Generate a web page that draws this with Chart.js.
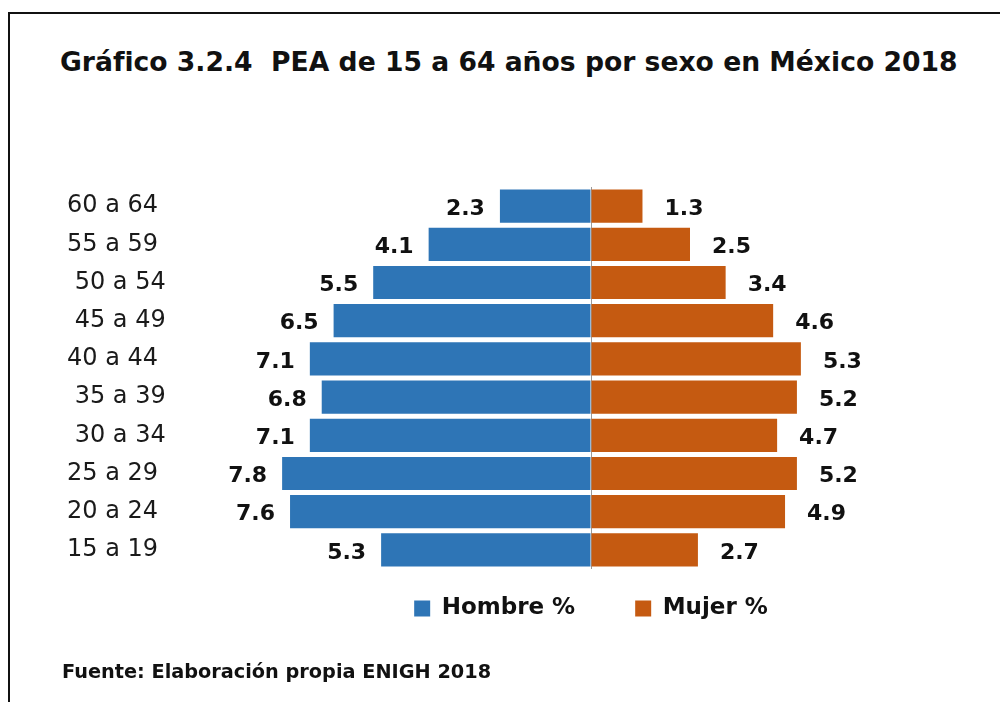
<!DOCTYPE html>
<html lang="es">
<head>
<meta charset="utf-8">
<title>PEA de 15 a 64 años por sexo en México 2018</title>
<script src="https://cdn.jsdelivr.net/npm/chart.js@4/dist/chart.umd.min.js"></script>
<style>
  html, body { margin: 0; padding: 0; background: #fff; }
  #wrap { position: relative; width: 1000px; height: 702px; overflow: hidden; }
  #frame { position: absolute; left: 8px; top: 12px; right: 0; bottom: -10px;
           border-left: 2px solid #111; border-top: 2px solid #111; }
  #title { position: absolute; left: 60px; top: 46px; white-space: nowrap;
           font: bold 26.6px "DejaVu Sans", sans-serif; color: #111; }
  #source { position: absolute; left: 62px; top: 660px; white-space: nowrap;
            font: bold 19.3px "DejaVu Sans", sans-serif; color: #111; }
  canvas { position: absolute; left: 0; top: 0; }
</style>
</head>
<body>
<div id="wrap">
  <div id="frame"></div>
  <div id="title">Gráfico 3.2.4&nbsp; PEA de 15 a 64 años por sexo en México 2018</div>
  <canvas id="pyramid" width="1000" height="702"></canvas>
  <div id="source">Fuente: Elaboración propia ENIGH 2018</div>
</div>
<script>
// Age groups, youngest first (axis is reversed so 60 a 64 sits on top)
const AGE_GROUPS = ['15 a 19', '20 a 24', '25 a 29', ' 30 a 34', ' 35 a 39',
                    '40 a 44', ' 45 a 49', ' 50 a 54', '55 a 59', '60 a 64'];
const HOMBRE = [5.3, 7.6, 7.8, 7.1, 6.8, 7.1, 6.5, 5.5, 4.1, 2.3];
const MUJER = [2.7, 4.9, 5.2, 4.7, 5.2, 5.3, 4.6, 3.4, 2.5, 1.3];

const BLUE = '#2E75B6';
const ORANGE = '#C55A11';

// Writes each bar's value just outside its free end
const valueLabels = {
  id: 'valueLabels',
  afterDatasetsDraw(chart) {
    const ctx = chart.ctx;
    ctx.save();
    ctx.font = 'bold 22px "DejaVu Sans", sans-serif';
    ctx.fillStyle = '#111';
    ctx.textBaseline = 'middle';
    chart.data.datasets.forEach((ds, di) => {
      const meta = chart.getDatasetMeta(di);
      const raw = di === 0 ? HOMBRE : MUJER;
      meta.data.forEach((bar, i) => {
        const txt = raw[i].toFixed(1);
        if (di === 0) {
          ctx.textAlign = 'right';
          ctx.fillText(txt, bar.x - 15, bar.y + 3);
        } else {
          ctx.textAlign = 'left';
          ctx.fillText(txt, bar.x + 22, bar.y + 3);
        }
      });
    });
    ctx.restore();
  }
};

const ctx = document.getElementById('pyramid').getContext('2d');
new Chart(ctx, {
  type: 'bar',
  data: {
    labels: AGE_GROUPS,
    datasets: [
      {
        label: 'Hombre %',
        data: HOMBRE.map(v => -v),
        backgroundColor: BLUE,
        barPercentage: 0.87,
        categoryPercentage: 1
      },
      {
        label: 'Mujer %',
        data: MUJER,
        backgroundColor: ORANGE,
        barPercentage: 0.87,
        categoryPercentage: 1
      }
    ]
  },
  options: {
    indexAxis: 'y',
    responsive: false,
    animation: false,
    layout: { padding: { top: 187, left: 67, right: 13, bottom: 72 } },
    plugins: {
      tooltip: { enabled: false },
      legend: {
        position: 'bottom',
        fullSize: false,
        labels: {
          color: '#111',
          font: { family: 'DejaVu Sans', size: 23, weight: 'bold' },
          boxWidth: 16,
          boxHeight: 16,
          padding: 28,
          generateLabels(chart) {
            const items = Chart.defaults.plugins.legend.labels.generateLabels(chart);
            items.forEach(it => { it.lineWidth = 0; });
            items[0].text = items[0].text + '    ';
            return items;
          }
        }
      }
    },
    scales: {
      x: {
        stacked: true,
        min: -10,
        max: 10,
        ticks: { display: false },
        border: { display: false },
        grid: {
          drawTicks: false,
          color: c => (c.tick && c.tick.value === 0 ? '#9a9a9a' : 'rgba(0,0,0,0)')
        },
        afterFit(scale) { scale.height = 0; }
      },
      y: {
        stacked: true,
        reverse: true,
        border: { display: false },
        grid: { display: false },
        ticks: {
          crossAlign: 'far',
          color: '#1a1a1a',
          font: { family: 'DejaVu Sans', size: 24 }
        },
        afterFit(scale) { scale.width = 128; }
      }
    }
  },
  plugins: [valueLabels]
});
</script>
</body>
</html>
